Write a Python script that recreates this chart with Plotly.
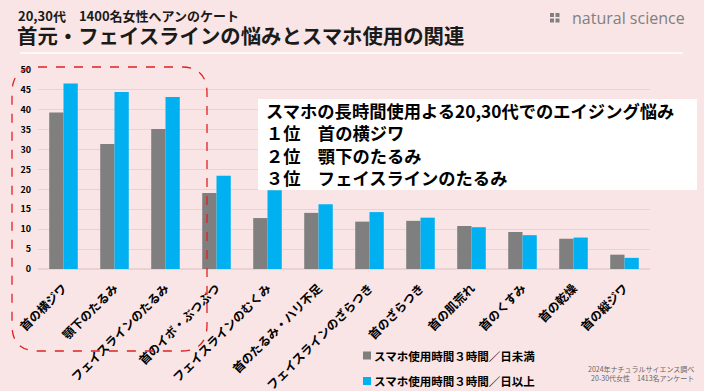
import plotly.graph_objects as go

categories = ["首の横ジワ", "顎下のたるみ", "フェイスラインのたるみ", "首のイボ・ぶつぶつ",
              "フェイスラインのむくみ", "首のたるみ・ハリ不足", "フェイスラインのざらつき",
              "首のざらつき", "首の肌荒れ", "首のくすみ", "首の乾燥", "首の縦ジワ"]
under3h = [39.3, 31.4, 35.2, 19.1, 12.8, 14.1, 11.9, 12.1, 10.8, 9.3, 7.6, 3.6]
over3h = [46.6, 44.5, 43.2, 23.4, 19.8, 16.3, 14.3, 12.9, 10.5, 8.5, 7.9, 2.8]
series_names = ["スマホ使用時間３時間／日未満", "スマホ使用時間３時間／日以上"]
series_colors = ["#7f7f7f", "#00b0f0"]
y_ticks = list(range(0, 51, 5))

W, H = 704, 391
L, R, T, B = 38, 54, 70, 122
PW, PH = W - L - R, H - T - B
FONT = "Noto Sans CJK JP"
BG = "#f9e5e5"


def px(x):
    return (x - L) / PW


def py(y):
    return (H - B - y) / PH


fig = go.Figure()
for vals, name, col in zip([under3h, over3h], series_names, series_colors):
    fig.add_trace(go.Bar(x=categories, y=vals, name=name, showlegend=False,
                         marker=dict(color=col, line=dict(width=0))))

shapes = []
# title underline
shapes.append(dict(type="line", xref="paper", yref="paper", x0=px(20), x1=px(683),
                   y0=py(53), y1=py(53), line=dict(color="white", width=1.5), layer="above"))
# white text box
shapes.append(dict(type="rect", xref="paper", yref="paper", x0=px(258), x1=px(697),
                   y0=py(190), y1=py(99), fillcolor="white", line=dict(width=0), layer="above"))
# dashed rounded rect
x0, x1, y0, y1, r = 12, 207, 67, 351, 26
P = lambda x, y: f"{px(x):.5f},{py(y):.5f}"
path = (f"M{P(x0 + r, y0)} L{P(x1 - r, y0)} Q{P(x1, y0)} {P(x1, y0 + r)} "
        f"L{P(x1, y1 - r)} Q{P(x1, y1)} {P(x1 - r, y1)} L{P(x0 + r, y1)} "
        f"Q{P(x0, y1)} {P(x0, y1 - r)} L{P(x0, y0 + r)} Q{P(x0, y0)} {P(x0 + r, y0)} Z")
shapes.append(dict(type="path", xref="paper", yref="paper", path=path,
                   line=dict(color="#e02020", width=1.3, dash="dash"), layer="above"))
# logo squares
for sx in (550, 555.5):
    for sy in (13, 18.5):
        shapes.append(dict(type="rect", xref="paper", yref="paper", x0=px(sx), x1=px(sx + 4),
                           y0=py(sy + 4), y1=py(sy), fillcolor="#808080", line=dict(width=0),
                           layer="above"))

annotations = [
    dict(text="<b>20,30代　1400名女性へアンのケート</b>", x=px(16), y=py(15), xref="paper", yref="paper",
         xanchor="left", yanchor="middle", showarrow=False, font=dict(family=FONT, size=13, color="#1a1a1a")),
    dict(text="<b>首元・フェイスラインの悩みとスマホ使用の関連</b>", x=px(15), y=py(35), xref="paper",
         yref="paper", xanchor="left", yanchor="middle", showarrow=False,
         font=dict(family=FONT, size=20.4, color="#1a1a1a")),
    dict(text="natural science", x=px(570), y=py(18), xref="paper", yref="paper",
         xanchor="left", yanchor="middle", showarrow=False,
         font=dict(family="Open Sans", size=16, color="#808080")),
    dict(text="<b>スマホの長時間使用よる20,30代でのエイジング悩み<br>１位　首の横ジワ<br>２位　顎下のたるみ<br>３位　フェイスラインのたるみ</b>",
         x=px(264), y=py(144), xref="paper", yref="paper", xanchor="left", yanchor="middle",
         align="left", showarrow=False, font=dict(family=FONT, size=17.3, color="black")),
    dict(text="2024年ナチュラルサイエンス調べ<br>20-30代女性　1413名アンケート", x=px(696), y=py(373.5),
         xref="paper", yref="paper", xanchor="right", yanchor="middle", align="right",
         showarrow=False, font=dict(family=FONT, size=7, color="#666666")),
]

# legend (drawn as key squares + labels)
for name, col, ly in zip(series_names, series_colors, [355.5, 381]):
    shapes.append(dict(type="rect", xref="paper", yref="paper", x0=px(363), x1=px(371),
                       y0=py(ly + 4), y1=py(ly - 4), fillcolor=col, line=dict(width=0), layer="above"))
    annotations.append(dict(text=f"<b>{name}</b>", x=px(372), y=py(ly), xref="paper", yref="paper",
                            xanchor="left", yanchor="middle", showarrow=False,
                            font=dict(family=FONT, size=11.5, color="black")))

fig.update_layout(
    width=W, height=H, showlegend=False,
    margin=dict(l=L, r=R, t=T, b=B, autoexpand=False),
    paper_bgcolor=BG, plot_bgcolor=BG,
    barmode="group", bargap=0.44, bargroupgap=0,
    font=dict(family=FONT, color="black"),
    shapes=shapes, annotations=annotations,
    xaxis=dict(tickangle=-45, tickfont=dict(family=FONT, size=12, color="black", weight="bold"),
               showgrid=False, showline=False, ticks="", automargin=False, ticklabelstandoff=9),
    yaxis=dict(range=[0, 50], tickvals=y_ticks, showgrid=True, gridcolor="#ead2d2", gridwidth=1,
               zeroline=True, zerolinecolor="#ead2d2", showline=False, ticks="",
               tickfont=dict(family=FONT, size=9, color="black", weight="bold"), automargin=False,
               ticklabelstandoff=6),
)

fig.write_html("out.html", config={"displayModeBar": False},
               post_script="document.body.style.margin='0';document.body.style.overflow='hidden';")
